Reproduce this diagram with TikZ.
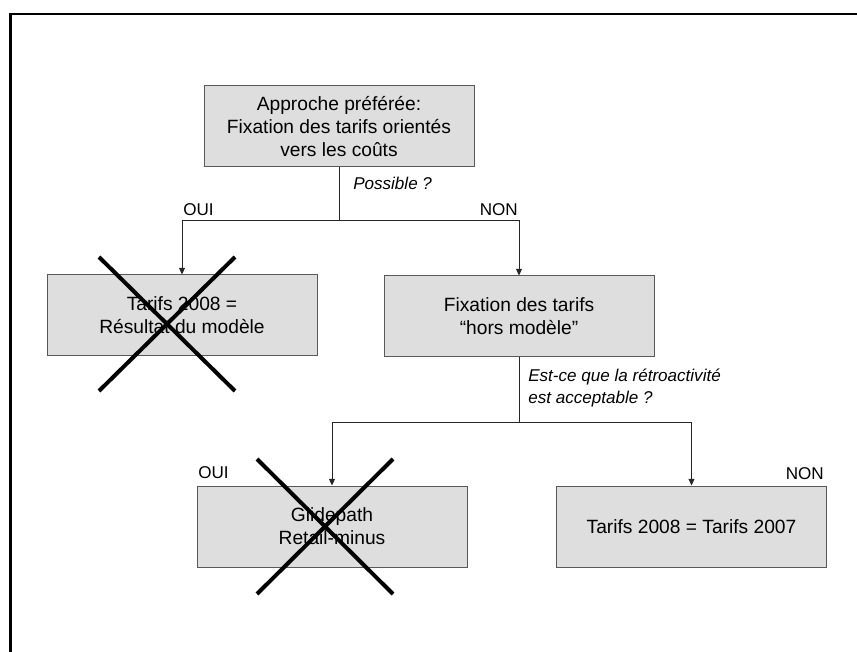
\documentclass[tikz,border=0pt]{standalone}
\usepackage{fontspec}
\setmainfont{Liberation Sans}
\usetikzlibrary{arrows.meta}
\tikzset{
  box/.style={draw=black!65, fill=black!13, line width=0.75pt, minimum width=202.5pt, minimum height=60.75pt, inner sep=0pt, align=center, font=\fontsize{14.4}{17.4}\selectfont},
  conn/.style={draw=black!85, line width=0.75pt},
  arr/.style={conn, -{Triangle[length=5pt,width=4.5pt]}},
  lbl/.style={inner sep=0pt, font=\fontsize{12.8}{16}\selectfont},
  ilbl/.style={lbl, font=\fontsize{12.8}{16.5}\selectfont\itshape, align=left},
  cross/.style={line width=3pt, black},
  frame/.style={line width=2pt, black}
}
\begin{document}
\begin{tikzpicture}[x=0.75pt,y=-0.75pt]
\useasboundingbox (0,0) rectangle (857,652);
\draw[frame] (10.5,652) -- (10.5,14) -- (857,14);

\node[box] (top) at (339,126.5) {Approche préférée:\\Fixation des tarifs orientés\\vers les coûts};
\node[box] (left) at (182,315.5) {Tarifs 2008 =\\Résultat du modèle};
\node[box] (mid) at (519,316.5) {Fixation des tarifs\\“hors modèle”};
\node[box] (glide) at (332,526.5) {Glidepath\\Retail-minus};
\node[box] (right) at (691.5,526.5) {Tarifs 2008 = Tarifs 2007};

\coordinate (j1) at (339,221);
\coordinate (j2) at (519,422);
\draw[conn] (top.south) -- (j1);
\draw[arr] (j1) -| (left.north);
\draw[arr] (j1) -| (mid.north);
\draw[conn] (mid.south) -- (j2);
\draw[arr] (j2) -| (glide.north);
\draw[arr] (j2) -| (right.north);

\node[ilbl, anchor=west] (q1) at (353,183) {Possible ?};
\node[lbl, anchor=west] (oui1) at (183,210) {OUI};
\node[lbl, anchor=east] (non1) at (518,210) {NON};
\node[ilbl, anchor=west] (q2) at (528,388) {Est-ce que la rétroactivité\\est acceptable ?};
\node[lbl, anchor=west] (oui2) at (198,473) {OUI};
\node[lbl, anchor=east] (non2) at (824,474) {NON};

\draw[cross] (99,257) -- (235,391);
\draw[cross] (99,391) -- (235,257);
\draw[cross] (257,459) -- (393,594);
\draw[cross] (257,594) -- (393,459);
\end{tikzpicture}
\end{document}
